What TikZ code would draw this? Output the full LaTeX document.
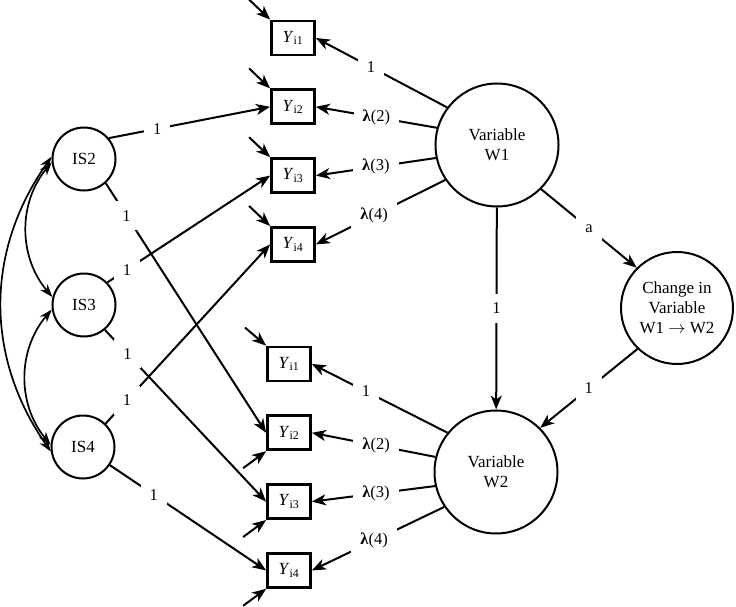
\documentclass[tikz,border=0pt]{standalone}
\usepackage{fontspec}
\setmainfont{Liberation Serif}
\usetikzlibrary{arrows.meta, positioning}

\begin{document}
\begin{tikzpicture}[
        x=1pt, y=-1pt,
        node distance=32pt,
        latent/.style={circle, draw, line width=2pt, inner sep=0pt, align=center, font=\fontsize{17}{20}\selectfont},
        obs/.style={rectangle, draw, line width=2.8pt, minimum width=43pt, minimum height=34pt, inner sep=0pt, font=\fontsize{17}{20}\selectfont},
        line/.style={draw, line width=2pt, -{Stealth[length=14pt, width=11pt, inset=4pt]}},
        cov/.style={draw, line width=1.7pt, {Stealth[length=13pt, width=9pt, inset=4pt]}-{Stealth[length=13pt, width=9pt, inset=4pt]}},
        lbl/.style={fill=white, inner sep=9pt, font=\fontsize{16.5}{18}\selectfont}
    ]
    \useasboundingbox (0,0) rectangle (736,607);

    % Nodes
    \node [latent, minimum size=63pt] (is2) at (84,159) {IS2};
    \node [latent, minimum size=63pt] (is3) at (84,305) {IS3};
    \node [latent, minimum size=63pt] (is4) at (83,447) {IS4};

    \node [obs] (y1a) at (293,38) {\textit{Y}\textsubscript{i1}};
    \node [obs, below=of y1a] (y2a) {\textit{Y}\textsubscript{i2}};
    \node [obs, below=of y2a] (y3a) {\textit{Y}\textsubscript{i3}};
    \node [obs, below=of y3a] (y4a) {\textit{Y}\textsubscript{i4}};

    \node [obs] (y1b) at (289,364) {\textit{Y}\textsubscript{i1}};
    \node [obs, below=of y1b] (y2b) {\textit{Y}\textsubscript{i2}};
    \node [obs, below=of y2b] (y3b) {\textit{Y}\textsubscript{i3}};
    \node [obs, below=of y3b] (y4b) {\textit{Y}\textsubscript{i4}};

    \node [latent, minimum size=123pt] (w1) at (497,145) {Variable\\W1};
    \node [latent, minimum size=123pt] (w2) at (496,472) {Variable\\W2};
    \node [latent, minimum size=112pt] (chg) at (677,308) {Change in\\Variable\\W1 $\rightarrow$ W2};

    % Residual arrows
    \path [line] (y1a.north west) ++(-21,-20) -- (y1a.north west);
    \path [line] (y2a.north west) ++(-21,-20) -- (y2a.north west);
    \path [line] (y3a.north west) ++(-21,-20) -- (y3a.north west);
    \path [line] (y4a.north west) ++(-21,-20) -- (y4a.north west);
    \path [line] (y1b.north west) ++(-21,-18) -- (y1b.north west);
    \path [line] (y2b.south west) ++(-23,17) -- (y2b.south west);
    \path [line] (y3b.south west) ++(-23,17) -- (y3b.south west);
    \path [line] (y4b.south west) ++(-23,17) -- (y4b.south west);

    % Intercept loadings
    \path [line] (is2.40) -- node [lbl, pos=0.3] {1} (y2a.west);
    \path [line] (is2.-48) -- node [lbl, pos=0.13] {1} (y2b.west);
    \path [line] (is3.44) -- node [lbl, pos=0.12] {1} (y3a.west);
    \path [line] (is3.-50) -- node [lbl, pos=0.14] {1} (y3b.west);
    \path [line] (is4.46) -- node [lbl, pos=0.13] {1} (y4a.west);
    \path [line] (is4.-34) -- node [lbl, pos=0.28] {1} (y4b.west);

    % Factor loadings
    \path [line] (w1.143) -- node [lbl, pos=0.58] {1} (y1a.east);
    \path [line] (w1.164) -- node [lbl, pos=0.5] {\textbf{λ}(2)} (y2a.east);
    \path [line] (w1.192) -- node [lbl, pos=0.5] {\textbf{λ}(3)} (y3a.east);
    \path [line] (w1.214) -- node [lbl, pos=0.55] {\textbf{λ}(4)} (y4a.east);
    \path [line] (w2.141) -- node [lbl, pos=0.6] {1} (y1b.east);
    \path [line] (w2.166) -- node [lbl, pos=0.48] {\textbf{λ}(2)} (y2b.east);
    \path [line] (w2.193) -- node [lbl, pos=0.48] {\textbf{λ}(3)} (y3b.east);
    \path [line] (w2.214) -- node [lbl, pos=0.53] {\textbf{λ}(4)} (y4b.east);

    % Change
    \path [line] (w1) -- node [lbl] {1} (w2);
    \path [line] (w1.-45) -- node [lbl] {a} (chg.135);
    \path [line] (chg.226) -- node [lbl] {1} (w2.45);

    % Covariances
    \path [cov] (is2.186) to [bend right=40] (is3.166);
    \path [cov] (is3.188) to [bend right=40] (is4.176);
    \path [cov] (is2.176) to [bend right=35] (is4.188);

\end{tikzpicture}
\end{document}
